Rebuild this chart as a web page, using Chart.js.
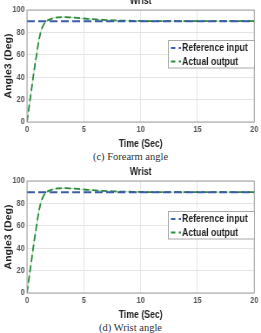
<!DOCTYPE html>
<html><head><meta charset="utf-8">
<script src="https://cdn.jsdelivr.net/npm/chart.js@4"></script>
<style>
html,body{margin:0;padding:0;background:#fff;width:261px;height:333px;overflow:hidden;position:relative}
.wrap{position:absolute;left:0;width:300px;height:160px;transform:scaleX(0.87);transform-origin:0 0}
.wrap canvas{display:block}
.cap{position:absolute;left:0;width:261px;text-align:center;font-family:"Liberation Serif","Times New Roman",serif;font-size:10.5px;color:#333;line-height:12px}
</style></head><body>
<div class="wrap" style="top:-10.5px"><canvas id="c1" width="300" height="160"></canvas></div>
<div class="cap" style="top:151px">(c) Forearm angle</div>
<div class="wrap" style="top:161px"><canvas id="c2" width="300" height="160"></canvas></div>
<div class="cap" style="top:322px">(d) Wrist angle</div>
<script>
// ---- data ----
const chartTitles = ["Wrist", "Wrist"];
const seriesNames = ["Reference input", "Actual output"];
const xTitle = "Time (Sec)";
const yTitle = "Angle3 (Deg)";
const xTicks = [0, 5, 10, 15, 20];
const yTicks = [0, 20, 40, 60, 80, 100];
const referenceTimes = [0, 20];
const referenceInput = [90, 90];
const outputTimes = [0, 0.15, 0.3, 0.45, 0.6, 0.75, 0.9, 1.05, 1.2, 1.35, 1.5, 1.7, 1.9, 2.2, 2.5, 2.8, 3.1, 3.4, 3.7, 4.0, 4.5, 5, 5.5, 6, 6.5, 7, 7.5, 8, 9, 10, 11, 12, 14, 16, 18, 20];
const actualOutput = [0, 11, 22, 33, 44, 54, 64, 73, 80, 84.5, 87.5, 89.8, 91.2, 92.4, 93.1, 93.4, 93.6, 93.6, 93.5, 93.3, 92.9, 92.4, 92.0, 91.6, 91.3, 91.0, 90.8, 90.6, 90.4, 90.2, 90.1, 90, 90, 90, 90, 90];

const FONT = '"Liberation Sans", Arial, sans-serif';
const BLUE = '#3a5ca8';
const GREEN = '#2a8a3c';

const decor = {
  id: 'decor',
  afterDraw(chart, args, opts) {
    const {ctx, chartArea: a} = chart;
    ctx.save();
    ctx.strokeStyle = '#a0a0a0';
    ctx.lineWidth = 1;
    ctx.setLineDash([]);
    ctx.strokeRect(a.left, a.top, a.right - a.left, a.bottom - a.top);
    // title
    ctx.fillStyle = '#222';
    ctx.font = 'bold 10px ' + FONT;
    ctx.textAlign = 'center';
    ctx.textBaseline = 'middle';
    ctx.fillText(opts.title, (a.left + a.right) / 2, opts.titleY);
    // legend
    const bx = 193.5, by = a.top + 30.5, bw = 99, bh = 27.5;
    ctx.fillStyle = '#fff';
    ctx.fillRect(bx, by, bw, bh);
    ctx.strokeStyle = '#a8a8a8';
    ctx.lineWidth = 1;
    ctx.strokeRect(bx, by, bw, bh);
    const rows = [[seriesNames[0], BLUE, by + 7.5], [seriesNames[1], GREEN, by + 21]];
    rows.forEach(([txt, col, y]) => {
      ctx.strokeStyle = col;
      ctx.lineWidth = 2;
      ctx.setLineDash([5, 4]);
      ctx.beginPath();
      ctx.moveTo(bx + 3, y);
      ctx.lineTo(bx + 14.5, y);
      ctx.stroke();
      ctx.setLineDash([]);
      ctx.fillStyle = '#1e1e1e';
      ctx.font = 'bold 10px ' + FONT;
      ctx.textAlign = 'left';
      ctx.textBaseline = 'middle';
      ctx.fillText(txt, bx + 15.7, y + 0.5);
    });
    ctx.restore();
  }
};

function makeChart(id, title) {
  const refPts = referenceTimes.map((t, i) => ({x: t, y: referenceInput[i]}));
  const outPts = outputTimes.map((t, i) => ({x: t, y: actualOutput[i]}));
  return new Chart(document.getElementById(id), {
    type: 'line',
    data: {
      datasets: [
        {label: seriesNames[0], data: refPts, borderColor: BLUE, borderWidth: 2, borderDash: [9, 4], pointRadius: 0, fill: false},
        {label: seriesNames[1], data: outPts, borderColor: GREEN, borderWidth: 1.8, borderDash: [7, 3.5], pointRadius: 0, fill: false, cubicInterpolationMode: 'monotone'},
        {label: seriesNames[1] + ' (trace)', data: outPts, borderColor: 'rgba(120,190,120,0.45)', borderWidth: 1.2, pointRadius: 0, fill: false, cubicInterpolationMode: 'monotone'}
      ]
    },
    options: {
      responsive: false,
      animation: false,
      devicePixelRatio: 1,
      layout: {padding: {top: 20, left: 3.5, right: 5.7, bottom: 0}},
      plugins: {
        legend: {display: false},
        tooltip: {enabled: false},
        title: {display: false},
        decor: {title: title, titleY: 11}
      },
      scales: {
        x: {
          type: 'linear', min: 0, max: 20,
          afterBuildTicks: s => { s.ticks = xTicks.map(v => ({value: v})); },
          afterFit: s => { s.height = 28; },
          ticks: {font: {family: FONT, size: 8.5, weight: 'bold'}, color: '#555', padding: 3, maxRotation: 0},
          grid: {color: '#e4e4e4', drawTicks: false, lineWidth: 1},
          border: {display: false},
          title: {display: true, text: xTitle, font: {family: FONT, size: 10, weight: 'bold'}, color: '#222', padding: 0}
        },
        y: {
          type: 'linear', min: 0, max: 100,
          afterBuildTicks: s => { s.ticks = yTicks.map(v => ({value: v})); },
          afterFit: s => { s.width = 27.5; },
          ticks: {font: {family: FONT, size: 8.5, weight: 'bold'}, color: '#555', padding: 2.5},
          grid: {color: '#e4e4e4', drawTicks: false, lineWidth: 1},
          border: {display: false},
          title: {display: true, text: yTitle, font: {family: FONT, size: 10.5, weight: 'bold'}, color: '#222', padding: 0}
        }
      }
    },
    plugins: [decor]
  });
}
makeChart('c1', chartTitles[0]);
makeChart('c2', chartTitles[1]);
</script>
</body></html>
